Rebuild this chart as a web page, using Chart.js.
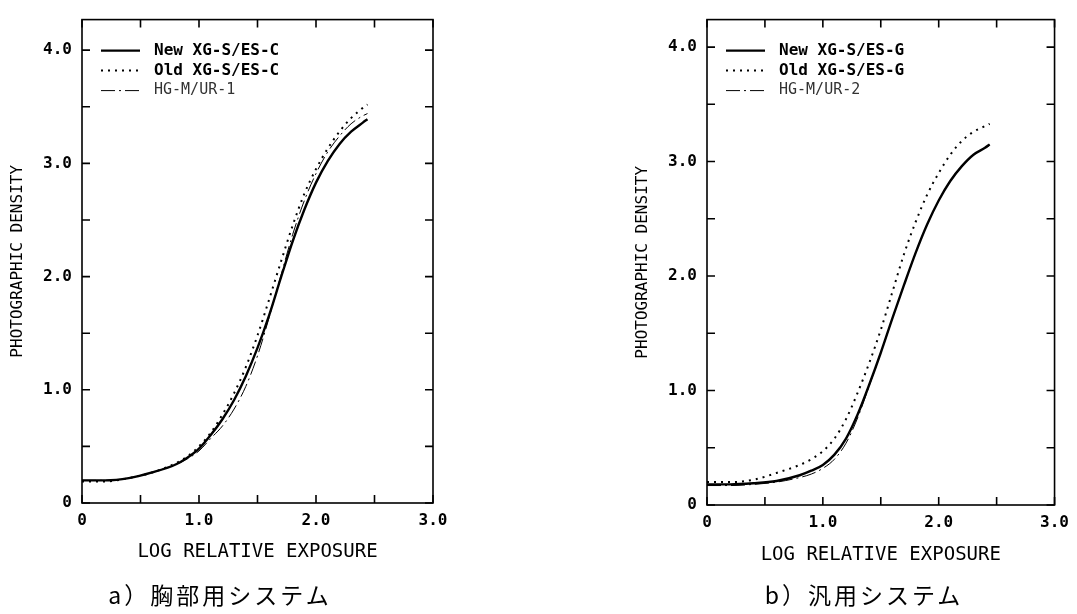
<!DOCTYPE html>
<html>
<head>
<meta charset="utf-8">
<script src="https://cdn.jsdelivr.net/npm/chart.js@4/dist/chart.umd.min.js"></script>
<style>
  body { margin: 0; background: #fff; width: 1077px; height: 614px; overflow: hidden; position: relative; }
  canvas { position: absolute; top: 0; }
  #chartA { left: 0; }
  #chartB { left: 540px; }
  .caption {
    position: absolute; top: 577px; font-family: "Noto Sans CJK JP", sans-serif;
    font-size: 23px; letter-spacing: 3px; color: #000; white-space: nowrap;
    transform: translateX(-50%);
  }
</style>
</head>
<body>
<canvas id="chartA" width="540" height="614"></canvas>
<canvas id="chartB" width="537" height="614"></canvas>
<div class="caption" style="left:220px">a）胸部用システム</div>
<div class="caption" style="left:864px">b）汎用システム</div>
<script>
// DATA (log relative exposure vs photographic density)
const exposure = [0, 0.2, 0.4, 0.6, 0.8, 0.9, 1.0, 1.1, 1.2, 1.3, 1.4, 1.5, 1.6, 1.7, 1.8, 1.9, 2.0, 2.1, 2.2, 2.3, 2.4, 2.44];

// a) chest systems
const labelsA = ['New XG-S/ES-C', 'Old XG-S/ES-C', 'HG-M/UR-1'];
const newC = [0.20, 0.20, 0.22, 0.27, 0.34, 0.40, 0.48, 0.60, 0.74, 0.91, 1.12, 1.37, 1.66, 1.99, 2.31, 2.59, 2.83, 3.02, 3.17, 3.28, 3.36, 3.39];
const oldC = [0.19, 0.19, 0.22, 0.27, 0.35, 0.41, 0.50, 0.62, 0.78, 0.97, 1.20, 1.48, 1.80, 2.13, 2.45, 2.73, 2.95, 3.13, 3.28, 3.40, 3.49, 3.52];
const hgC  = [0.20, 0.20, 0.22, 0.27, 0.34, 0.39, 0.46, 0.57, 0.68, 0.83, 1.03, 1.30, 1.64, 2.01, 2.37, 2.67, 2.91, 3.10, 3.24, 3.35, 3.42, 3.44];

// b) general purpose systems
const labelsB = ['New XG-S/ES-G', 'Old XG-S/ES-G', 'HG-M/UR-2'];
const newG = [0.18, 0.18, 0.19, 0.21, 0.26, 0.30, 0.35, 0.44, 0.58, 0.79, 1.05, 1.33, 1.63, 1.92, 2.20, 2.45, 2.66, 2.83, 2.96, 3.06, 3.12, 3.15];
const oldG = [0.20, 0.20, 0.22, 0.28, 0.35, 0.40, 0.47, 0.58, 0.75, 0.98, 1.24, 1.53, 1.86, 2.19, 2.47, 2.71, 2.90, 3.06, 3.18, 3.26, 3.31, 3.33];
const hgG  = [0.17, 0.17, 0.18, 0.20, 0.24, 0.27, 0.32, 0.40, 0.54, 0.76, 1.04, 1.33, 1.63, 1.92, 2.20, 2.45, 2.66, 2.83, 2.96, 3.06, 3.12, 3.14];

const xTitle = 'LOG RELATIVE EXPOSURE';
const yTitle = 'PHOTOGRAPHIC DENSITY';

const MONO = '"DejaVu Sans Mono", "Liberation Mono", monospace';

// line styles: solid / dotted / dash-dot
const styles = [
    { borderWidth: 2.4, borderDash: [], legendFont: 'bold 16px ' + MONO, legendColor: '#000' },
    { borderWidth: 2, borderDash: [2, 5], legendFont: 'bold 16px ' + MONO, legendColor: '#000' },
    { borderWidth: 1, borderDash: [14, 4, 2, 4], legendFont: '15px ' + MONO, legendColor: '#333' }
];

function points(ys) {
    return exposure.map((x, i) => ({ x: x, y: ys[i] }));
}

// Frame with inward ticks on all four sides
const frameTicks = {
    id: 'frameTicks',
    afterDraw(chart) {
        const { ctx, chartArea: a, scales: { x, y } } = chart;
        const len = 8;
        const half = v => Math.abs(v * 2 - Math.round(v * 2)) < 1e-6;
        ctx.save();
        ctx.strokeStyle = '#000';
        ctx.lineWidth = 1.6;
        ctx.strokeRect(a.left, a.top, a.right - a.left, a.bottom - a.top);
        ctx.beginPath();
        x.ticks.forEach(t => {
            if (!half(t.value)) return;
            const px = x.getPixelForValue(t.value);
            ctx.moveTo(px, a.bottom); ctx.lineTo(px, a.bottom - len);
            ctx.moveTo(px, a.top); ctx.lineTo(px, a.top + len);
        });
        y.ticks.forEach(t => {
            if (!half(t.value)) return;
            const py = y.getPixelForValue(t.value);
            ctx.moveTo(a.left, py); ctx.lineTo(a.left + len, py);
            ctx.moveTo(a.right, py); ctx.lineTo(a.right - len, py);
        });
        ctx.stroke();
        ctx.restore();
    }
};

// Legend drawn inside the plot, upper-left
const innerLegend = {
    id: 'innerLegend',
    afterDatasetsDraw(chart) {
        const { ctx, chartArea: a } = chart;
        ctx.save();
        chart.data.datasets.forEach((ds, i) => {
            const yy = a.top + 31 + i * 20;
            ctx.beginPath();
            ctx.strokeStyle = '#000';
            ctx.lineWidth = ds.borderWidth;
            ctx.setLineDash(ds.borderDash);
            ctx.moveTo(a.left + 19, yy);
            ctx.lineTo(a.left + 58, yy);
            ctx.stroke();
            ctx.setLineDash([]);
            ctx.font = ds.legendFont;
            ctx.fillStyle = ds.legendColor;
            ctx.textBaseline = 'middle';
            ctx.fillText(ds.label, a.left + 72, yy);
        });
        ctx.restore();
    }
};

function tickLabel(v) {
    if (Math.abs(v - Math.round(v)) > 1e-6) return '';
    return v === 0 ? '0' : v.toFixed(1);
}

function makeChart(id, labels, series, layout) {
    const ctx = document.getElementById(id).getContext('2d');
    new Chart(ctx, {
        type: 'line',
        data: {
            datasets: series.map((ys, i) => Object.assign({
                label: labels[i],
                data: points(ys),
                borderColor: '#000',
                pointRadius: 0,
                fill: false,
                cubicInterpolationMode: 'monotone',
                borderCapStyle: 'butt'
            }, styles[i]))
        },
        options: {
            responsive: false,
            animation: false,
            devicePixelRatio: 1,
            layout: { padding: layout.padding },
            plugins: { legend: { display: false }, tooltip: { enabled: false } },
            scales: {
                x: {
                    type: 'linear',
                    min: 0,
                    max: 3,
                    grid: { display: false, drawTicks: false },
                    border: { display: false },
                    afterFit: s => { s.height = layout.xHeight; },
                    ticks: {
                        stepSize: 0.5,
                        includeBounds: false,
                        autoSkip: false,
                        maxRotation: 0,
                        padding: 8,
                        color: '#000',
                        font: { family: MONO, size: 16, weight: 'bold' },
                        callback: tickLabel
                    },
                    title: {
                        display: true,
                        text: xTitle,
                        color: '#000',
                        padding: { top: 0, bottom: 0 },
                        font: { family: MONO, size: 19 }
                    }
                },
                y: {
                    type: 'linear',
                    min: 0,
                    max: layout.yMax,
                    grid: { display: false, drawTicks: false },
                    border: { display: false },
                    afterFit: s => { s.width = 82; },
                    ticks: {
                        stepSize: 0.5,
                        includeBounds: false,
                        autoSkip: false,
                        padding: 10,
                        color: '#000',
                        font: { family: MONO, size: 16, weight: 'bold' },
                        callback: tickLabel
                    },
                    title: {
                        display: true,
                        text: yTitle,
                        color: '#000',
                        padding: { top: 8, bottom: 0 },
                        font: { family: MONO, size: 16 }
                    }
                }
            }
        },
        plugins: [frameTicks, innerLegend]
    });
}

document.addEventListener('DOMContentLoaded', function() {
    makeChart('chartA', labelsA, [newC, oldC, hgC], {
        padding: { left: 0, top: 9, right: 107, bottom: 51 },
        xHeight: 60,
        yMax: 4.27
    });
    makeChart('chartB', labelsB, [newG, oldG, hgG], {
        padding: { left: 85, top: 15, right: 17, bottom: 48 },
        xHeight: 61,
        yMax: 4.24
    });
});
</script>
</body>
</html>
